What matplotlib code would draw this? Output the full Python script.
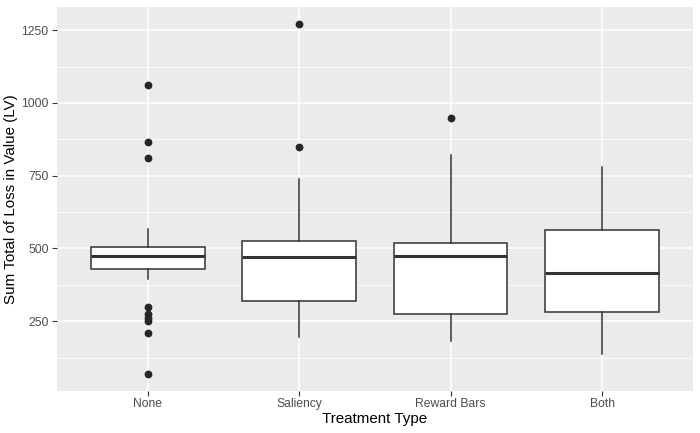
import matplotlib
matplotlib.use("Agg")
import matplotlib.pyplot as plt
from matplotlib.ticker import FixedLocator

categories = ["None", "Saliency", "Reward Bars", "Both"]
q1 = [430, 320, 275, 280]
median = [475, 471, 475, 415]
q3 = [506, 527, 517, 565]
whisker_low = [396, 194, 181, 137]
whisker_high = [566, 738, 821, 779]
outliers = [
    [1061, 866, 810, 299, 274, 262, 250, 208, 70],
    [1270, 850],
    [947],
    [],
]
y_ticks = [250, 500, 750, 1000, 1250]
y_minor = [125, 375, 625, 875, 1125]

plt.rcParams["font.family"] = ["Liberation Sans", "DejaVu Sans"]

fig = plt.figure(figsize=(7.0, 4.33), dpi=100)
ax = fig.add_axes([0.0814, 0.097, 0.9086, 0.887])
ax.set_facecolor("#EBEBEB")
for s in ax.spines.values():
    s.set_visible(False)

stats = []
for i, c in enumerate(categories):
    stats.append(dict(label=c, q1=q1[i], med=median[i], q3=q3[i],
                      whislo=whisker_low[i], whishi=whisker_high[i],
                      fliers=outliers[i]))

line_col = "#333333"
ax.bxp(stats, positions=range(len(categories)), widths=0.75, patch_artist=True,
       showcaps=False, zorder=3,
       boxprops=dict(facecolor="white", edgecolor=line_col, linewidth=1.1),
       medianprops=dict(color=line_col, linewidth=2.2, solid_capstyle="butt"),
       whiskerprops=dict(color=line_col, linewidth=1.1),
       flierprops=dict(marker="o", markerfacecolor="#262626", markeredgecolor="#262626",
                       markersize=4.6, linestyle="none"))

ax.set_xlim(-0.6, 3.6)
ax.set_ylim(10, 1330)
ax.yaxis.set_major_locator(FixedLocator(y_ticks))
ax.yaxis.set_minor_locator(FixedLocator(y_minor))
ax.set_xticks(range(len(categories)))
ax.set_xticklabels(categories)

ax.grid(which="major", color="white", linewidth=1.1, zorder=0)
ax.grid(which="minor", axis="y", color="white", linewidth=0.55, zorder=0)
ax.set_axisbelow(True)

ax.tick_params(axis="both", which="major", length=3.5, width=0.8, color="#333333",
               labelsize=8.7, labelcolor="#4D4D4D", pad=2.5)
ax.tick_params(axis="x", which="major", pad=1.5)
ax.tick_params(axis="y", which="minor", length=0)

ax.set_xlabel("Treatment Type", fontsize=10.9, color="black", labelpad=1.5)
ax.set_ylabel("Sum Total of Loss in Value (LV)", fontsize=10.9, color="black", labelpad=2)

fig.savefig("out.png", dpi=100)
